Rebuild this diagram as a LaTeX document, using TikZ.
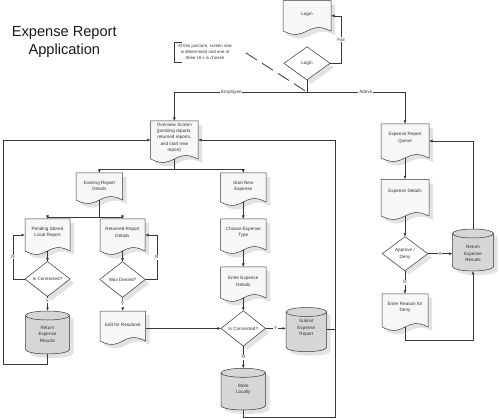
\documentclass[tikz,border=0pt]{standalone}
\usepackage{fontspec}
\setmainfont{Liberation Sans}
\usetikzlibrary{arrows.meta,backgrounds}
\pgfdeclarelayer{shadowlayer}
\pgfsetlayers{shadowlayer,background,main}
\definecolor{lc}{HTML}{383838}
\definecolor{tc}{HTML}{333333}
\definecolor{docc}{HTML}{F7F7F7}
\definecolor{cylc}{HTML}{D6D6D6}
\definecolor{shc}{HTML}{E2E2E2}
\tikzset{
  ln/.style={draw=lc, line width=0.5pt},
  arr/.style={ln, -{Latex[length=3.5pt,width=2.8pt]}},
  txt/.style={font=\fontsize{4.6}{6.3}\selectfont, align=center, text=tc, inner sep=0pt},
  lab/.style={font=\fontsize{4.6}{5}\selectfont, fill=white, inner sep=0.8pt, text=tc},
  box/.style={inner sep=0pt, outer sep=0pt, draw=none},
  docfill/.style={fill=docc, draw=lc, line width=0.5pt},
  shad/.style={fill=shc},
  cylfill/.style={fill=cylc, draw=lc, line width=0.5pt},
  diafill/.style={fill=white, draw=lc, line width=0.5pt},
  titlef/.style={font=\fontsize{14.6}{18}\selectfont, align=center, inner sep=0pt, text=black!90},
  notef/.style={font=\fontsize{4.4}{6.3}\selectfont, align=center, inner sep=0pt, text=tc},
  dashline/.style={draw=lc, line width=0.8pt, dash pattern=on 13pt off 6pt},
}
% name, left, top, right, wave-mid, text dy, text
\newcommand\docshape[7]{%
  \node[box, minimum width={#4-#2}, minimum height={#5-#3}] (#1) at ({(#2+#4)/2},{(#3+#5)/2}) {};
  \node[txt] (#1-t) at ([yshift={-1*(#6)}]#1.center) {#7};
  \begin{pgfonlayer}{shadowlayer}
    \fill[shad] ([shift={(4,4)}]#1.north west) -- ([shift={(4,4)}]#1.south west)
      .. controls ([shift={({4+(#4-#2)/2},16)}]#1.south west) and ([shift={({4-(#4-#2)/2},-8)}]#1.south east)
      .. ([shift={(4,4)}]#1.south east) -- ([shift={(4,4)}]#1.north east) -- cycle;
  \end{pgfonlayer}
  \begin{pgfonlayer}{background}
    \draw[docfill] (#1.north west) -- (#1.south west)
      .. controls ([shift={({(#4-#2)/2},12)}]#1.south west) and ([shift={({-(#4-#2)/2},-12)}]#1.south east)
      .. (#1.south east) -- (#1.north east) -- cycle;
  \end{pgfonlayer}%
}
% name, left, top, right, bottom, text dy, text
\newcommand\cylshape[7]{%
  \node[box, minimum width={#4-#2}, minimum height={#5-#3}] (#1) at ({(#2+#4)/2},{(#3+#5)/2}) {};
  \node[txt] (#1-t) at ([yshift={-1*(#6)}]#1.center) {#7};
  \begin{pgfonlayer}{shadowlayer}
    \fill[shad] ([shift={(4,8.5)}]#1.north west) arc[start angle=180,end angle=0,x radius={(#4-#2)/2*1pt},y radius=4.5pt]
      -- ([shift={(4,-0.5)}]#1.south east) arc[start angle=0,end angle=-180,x radius={(#4-#2)/2*1pt},y radius=4.5pt] -- cycle;
  \end{pgfonlayer}
  \begin{pgfonlayer}{background}
    \draw[cylfill] ([yshift=-4.5pt]#1.north west) arc[start angle=180,end angle=0,x radius={(#4-#2)/2*1pt},y radius=4.5pt]
      -- ([yshift=4.5pt]#1.south east) arc[start angle=0,end angle=-180,x radius={(#4-#2)/2*1pt},y radius=4.5pt] -- cycle;
    \draw[ln] ([yshift=-4.5pt]#1.north west) arc[start angle=180,end angle=360,x radius={(#4-#2)/2*1pt},y radius=4.5pt];
  \end{pgfonlayer}%
}
% name, cx, cy, w, h, text
\newcommand\diashape[6]{%
  \node[box, txt, minimum width=#4, minimum height=#5] (#1) at (#2,#3) {#6};
  \begin{pgfonlayer}{shadowlayer}
    \fill[shad] ([shift={(4,4)}]#1.north) -- ([shift={(4,4)}]#1.east) -- ([shift={(4,4)}]#1.south) -- ([shift={(4,4)}]#1.west) -- cycle;
  \end{pgfonlayer}
  \begin{pgfonlayer}{background}
    \draw[diafill] (#1.north) -- (#1.east) -- (#1.south) -- (#1.west) -- cycle;
  \end{pgfonlayer}%
}
\begin{document}
\begin{tikzpicture}[x=1pt,y=-1pt]
\useasboundingbox (0,0) rectangle (500,419);

\node[titlef, anchor=north] (title) at (64.3,26.2) {Expense Report\\Application};

\node[notef] (note) at (205,52) {At this juncture, screen size\\is determined and one of\\three UI s is chosen};
\draw[draw=lc, line width=0.9pt] (182,42.8) -- (174.5,42.8) -- (174.5,62) -- (182,62);

\docshape{login}{283}{0.6}{331}{31}{-1.7}{Login}
\diashape{logd}{307}{63.3}{46}{33}{Login}
\coordinate (j) at (307,92);
\coordinate (dashA) at (246,53);

\docshape{ov}{150.7}{121}{198}{159}{-2.3}{Overview Screen\\(pending reports,\\returned reports,\\and start new\\report)}
\docshape{erd}{76}{173}{122.7}{200}{-0.5}{Existing Report\\Details}
\docshape{sne}{220.5}{173}{266}{202}{-1}{Start New\\Expense}
\docshape{psl}{25}{219}{70}{251}{-2.7}{Pending Stored\\Local Report}
\docshape{rrd}{100}{219}{145}{251}{-2.7}{Returned Report\\Details}
\docshape{cet}{220.5}{219}{266}{250}{-2.3}{Choose Expense\\Type}
\docshape{eed}{220.5}{267}{266}{298}{-1.2}{Enter Expense\\Details}
\docshape{efr}{100}{311}{145.5}{341}{-1}{Edit for Resubmit}
\docshape{erq}{381}{124}{429}{158}{-3}{Expense Report\\Queue}
\docshape{ed}{381}{179.3}{429}{216}{-6}{Expense Details}
\docshape{efd}{382}{294}{428}{327}{-3}{Enter Reason for\\Deny}

\diashape{ic1}{47.5}{279}{45}{35}{Is Connected?}
\diashape{wd}{122.5}{279.5}{45.6}{35.6}{Was Denied?}
\diashape{ic2}{243.25}{328.4}{44.4}{35.3}{Is Connected?}
\diashape{ad}{405}{253.7}{45.6}{34}{Approve /\\Deny}

\cylshape{rer1}{25.5}{311}{69.5}{354}{1.8}{Return\\Expense\\Results}
\cylshape{ser}{286}{307.5}{326.7}{351.7}{-1.6}{Submit\\Expense\\Report}
\cylshape{sl}{221}{368.3}{265.5}{410}{0}{Store\\Locally}
\cylshape{rer2}{452.5}{229}{493.5}{271}{3.5}{Return\\Expense\\Results}

% connectors
\draw[arr] (logd.east) -- ++(11,0) |- node[lab,pos=0.25] (lfail) {Fail} (login.east);
\draw[ln] (logd.south) -- (j);
\draw[arr] (j) -| node[lab,pos=0.285] (lemp) {Employee} (ov.north);
\draw[arr] (j) -| node[lab,pos=0.3] (ladm) {Admin} (erq.north);
\draw[dashline] (dashA) -- (j);

\coordinate (j2) at (ov.south |- 0,169);
\draw[ln] (ov.south) -- (j2);
\draw[arr] (j2) -| (erd.north);
\draw[arr] (j2) -| (sne.north);
\coordinate (j3) at (erd.south |- 0,217);
\draw[ln] (erd.south) -- (j3);
\draw[arr] (j3) -| (psl.north);
\draw[arr] (j3) -| (rrd.north);

\draw[arr] (sne.south) -- (cet.north);
\draw[arr] (cet.south) -- (eed.north);
\draw[arr] (eed.south) -- (ic2.north);
\draw[arr] (ic2.east) -- node[lab] (ly2) {Y} (ic2.east -| ser.west);
\draw[arr] (ic2.south) -- node[lab] (ln2) {N} (sl.north);
\coordinate (c1) at (335,417.5);
\draw[arr] (sl.south) |- (c1) |- (ov.east);
\draw[ln] (ser.east) -- (ser.east -| c1);
\draw[arr] (efr.east |- ic2.west) -- (ic2.west);

\draw[arr] (rrd.south) -- (wd.north);
\draw[arr] (wd.south) -- node[lab] (lyw) {Y} (efr.north);
\draw[arr] (wd.east) -- ++(11.5,0) |- node[lab,pos=0.25] (lnw) {N} (rrd.east);

\draw[arr] (psl.south) -- (ic1.north);
\draw[arr] (ic1.west) -- ++(-12,0) |- node[lab,pos=0.25] (ln1) {N} (psl.west);
\draw[arr] (ic1.south) -- node[lab,pos=0.3] (ly1) {Y} (rer1.north);
\coordinate (c2) at (3,364);
\draw[arr] (rer1.south) |- (c2) |- (ov.west);

\draw[arr] (erq.south) -- (ed.north);
\draw[arr] (ed.south) -- (ad.north);
\draw[arr] (ad.east) -- node[lab] (la) {A} (ad.east -| rer2.west);
\draw[arr] (ad.south) -- node[lab] (ld) {D} (efd.north);
\draw[arr] (efd.south) -- ++(0,13) -| (rer2.south);
\draw[arr] (rer2.north) |- (erq.east);
\end{tikzpicture}
\end{document}
